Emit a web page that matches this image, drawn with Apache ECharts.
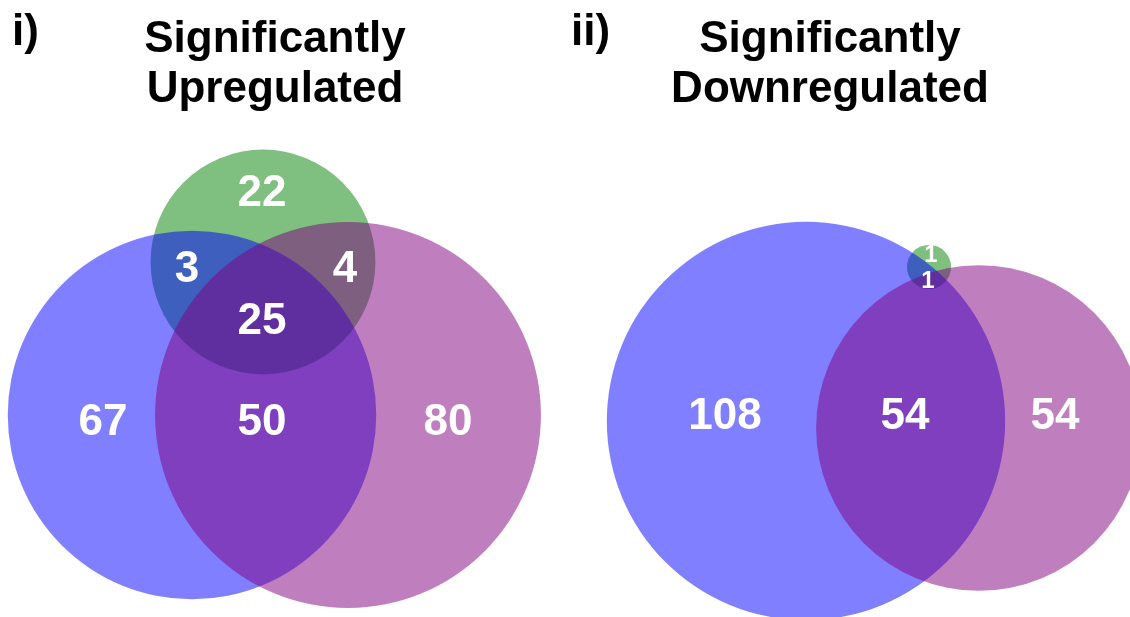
<!DOCTYPE html>
<html>
<head>
<meta charset="utf-8">
<title>Significantly regulated genes</title>
<script src="https://cdn.jsdelivr.net/npm/echarts@6/dist/echarts.min.js"></script>
<style>
  html, body { margin: 0; padding: 0; background: #fff; }
  #chart { width: 1130px; height: 617px; }
</style>
</head>
<body>
<div id="chart"></div>
<script>
// Venn regions: A = blue set, B = purple set, C = green set
const regionKeys = ['A', 'B', 'C', 'AB', 'AC', 'BC', 'ABC'];
const upCounts = [67, 80, 22, 50, 3, 4, 25];
const downCounts = [108, 54, 1, 54, 0, 0, 1];
const setKeys = ['A', 'B', 'C'];
const panelTitles = ['Significantly\nUpregulated', 'Significantly\nDownregulated'];
const panelTags = ['i)', 'ii)'];

// ---- layout (canvas pixel units, used as axis units) ----
const W = 1130, H = 617;
const radiusPerSqrt = [15.3, 15.6];      // per panel: circle radius grows with sqrt(set size)
const setFill = { A: 'rgba(0,0,255,0.5)', B: 'rgba(128,0,128,0.5)', C: 'rgba(0,128,0,0.5)' };
const drawOrder = ['C', 'A', 'B'];
const upCentres = { A: [192, 415], B: [348, 415], C: [263, 262] };
const downCentres = { A: [806, 421], B: [979, 428], C: [929, 267] };
const upLabelPos = { A: [103, 423], B: [448, 423], C: [262, 194], AB: [262, 423], AC: [187, 270], BC: [345, 270], ABC: [262, 322] };
const downLabelPos = { A: [725, 417], B: [1055, 417], C: [931, 255], AB: [905, 417], ABC: [928, 281] };
const smallLabelKeys = { C: true, ABC: true };   // regions inside the tiny down-regulated circle
const FONT = '"Liberation Sans", Arial, sans-serif';

function setTotal(counts, set) {
  return regionKeys.reduce((s, k, i) => s + (k.indexOf(set) >= 0 ? counts[i] : 0), 0);
}

function circleData(counts, centres, panel) {
  return drawOrder.map(set => ({
    value: [centres[set][0], centres[set][1], radiusPerSqrt[panel] * Math.sqrt(setTotal(counts, set))],
    set: set
  }));
}

function labelData(counts, positions, panel) {
  const out = [];
  regionKeys.forEach((k, i) => {
    if (!counts[i]) return;
    const p = positions[k];
    const small = panel === 1 && smallLabelKeys[k];
    out.push({ value: [p[0], p[1], counts[i]], label: { fontSize: small ? 24 : 44 } });
  });
  return out;
}

const circles = circleData(upCounts, upCentres, 0).concat(circleData(downCounts, downCentres, 1));
const labels = labelData(upCounts, upLabelPos, 0).concat(labelData(downCounts, downLabelPos, 1));

const chart = echarts.init(document.getElementById('chart'), null, { renderer: 'canvas' });

chart.setOption({
  animation: false,
  backgroundColor: '#ffffff',
  grid: { left: 0, right: 0, top: 0, bottom: 0 },
  xAxis: { type: 'value', min: 0, max: W, show: false },
  yAxis: { type: 'value', min: 0, max: H, inverse: true, show: false },
  graphic: [
    { type: 'text', x: 275, y: 15, style: { text: panelTitles[0], font: 'bold 44px ' + FONT, fill: '#000', align: 'center', verticalAlign: 'top', lineHeight: 50 } },
    { type: 'text', x: 830, y: 15, style: { text: panelTitles[1], font: 'bold 44px ' + FONT, fill: '#000', align: 'center', verticalAlign: 'top', lineHeight: 50 } },
    { type: 'text', x: 12, y: 8, style: { text: panelTags[0], font: 'bold 44px ' + FONT, fill: '#000', align: 'left', verticalAlign: 'top', lineHeight: 50 } },
    { type: 'text', x: 571, y: 8, style: { text: panelTags[1], font: 'bold 44px ' + FONT, fill: '#000', align: 'left', verticalAlign: 'top', lineHeight: 50 } }
  ],
  series: [
    {
      type: 'custom',
      coordinateSystem: 'cartesian2d',
      silent: true,
      data: circles,
      renderItem: function (params, api) {
        const c = api.coord([api.value(0), api.value(1)]);
        const r = api.size([api.value(2), api.value(2)])[0];
        const set = circles[params.dataIndex].set;
        return {
          type: 'circle',
          shape: { cx: c[0], cy: c[1], r: r },
          style: { fill: setFill[set], stroke: null }
        };
      }
    },
    {
      type: 'scatter',
      silent: true,
      symbolSize: 0,
      itemStyle: { opacity: 1 },
      data: labels,
      label: {
        show: true,
        position: 'inside',
        formatter: p => String(p.value[2]),
        color: '#ffffff',
        opacity: 1,
        fontWeight: 'bold',
        fontFamily: FONT,
        fontSize: 44
      }
    }
  ]
});
</script>
</body>
</html>
